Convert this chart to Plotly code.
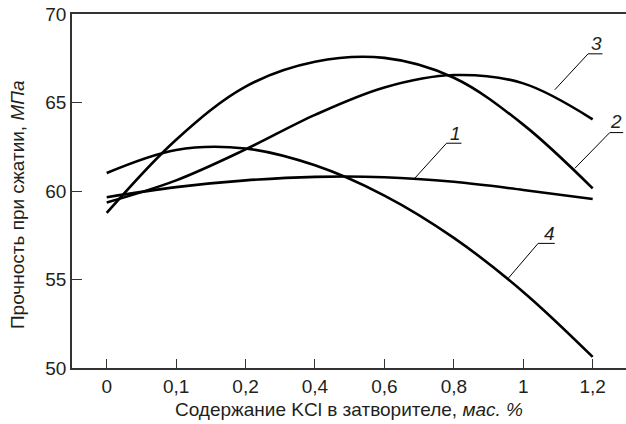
import plotly.graph_objects as go

categories = ["0", "0,1", "0,2", "0,4", "0,6", "0,8", "1", "1,2"]
curve1 = [59.65, 60.22, 60.6, 60.8, 60.78, 60.52, 60.06, 59.55]
curve2 = [58.76, 62.9, 65.9, 67.3, 67.52, 66.4, 63.75, 60.15]
curve3 = [59.35, 60.6, 62.35, 64.3, 65.85, 66.55, 66.08, 64.05]
curve4 = [61.02, 62.32, 62.4, 61.45, 59.74, 57.35, 54.3, 50.63]
series = {"1": curve1, "2": curve2, "3": curve3, "4": curve4}
y_ticks = [50, 55, 60, 65, 70]

FONT = "Liberation Sans, Arial, sans-serif"
TXT = "#231f20"

fig = go.Figure()
for name, vals in series.items():
    fig.add_trace(go.Scatter(
        x=categories, y=vals, mode="lines", name=name,
        line=dict(color="#000000", width=2.6, shape="spline", smoothing=1.0),
        showlegend=False, hoverinfo="skip"))

# curve labels with leader lines (category index, value)
leaders = [
    # label, point on curve, elbow, underline end, text position
    ("1", (4.437, 60.72), (4.895, 62.70), (5.11, 62.70), (5.03, 63.25)),
    ("2", (6.743, 61.28), (7.246, 63.30), (7.44, 63.30), (7.343, 63.92)),
    ("3", (6.454, 65.72), (6.934, 67.75), (7.141, 67.75), (7.055, 68.32)),
    ("4", (5.782, 55.06), (6.214, 57.04), (6.454, 57.04), (6.372, 57.61)),
]
shapes = []
annotations = []
for lab, p0, p1, p2, pt in leaders:
    shapes.append(dict(type="line", xref="x", yref="y", x0=p0[0], y0=p0[1], x1=p1[0], y1=p1[1],
                       line=dict(color="#000000", width=1)))
    shapes.append(dict(type="line", xref="x", yref="y", x0=p1[0], y0=p1[1], x1=p2[0], y1=p2[1],
                       line=dict(color="#000000", width=1)))
    annotations.append(dict(x=pt[0], y=pt[1], xref="x", yref="y", text="<i>%s</i>" % lab,
                            showarrow=False, font=dict(family=FONT, size=19, color=TXT),
                            xanchor="center", yanchor="middle"))

annotations.append(dict(x=-0.0993, y=0.463, xref="paper", yref="paper",
                        text="Прочность при сжатии, <i>МПа</i>", textangle=-90,
                        showarrow=False, font=dict(family=FONT, size=19, color=TXT),
                        xanchor="center", yanchor="middle"))
annotations.append(dict(x=0.5, y=-0.1186, xref="paper", yref="paper",
                        text="Содержание KCl в затворителе, <i>мас. %</i>",
                        showarrow=False, font=dict(family=FONT, size=19, color=TXT),
                        xanchor="center", yanchor="middle"))

fig.update_layout(
    width=626, height=424,
    margin=dict(l=72, r=0, t=14, b=56),
    paper_bgcolor="white", plot_bgcolor="white",
    font=dict(family=FONT, size=19, color=TXT),
    shapes=shapes, annotations=annotations,
    xaxis=dict(type="category", categoryorder="array", categoryarray=categories,
               range=[-0.5, 7.48], showgrid=False, zeroline=False,
               showline=True, linecolor="#333333", linewidth=1.5, mirror=True,
               ticks="inside", ticklen=9, tickwidth=1.2, tickcolor="#333333",
               tickfont=dict(family=FONT, size=19, color=TXT)),
    yaxis=dict(range=[50, 70], tickvals=y_ticks, showgrid=False, zeroline=False,
               showline=True, linecolor="#333333", linewidth=1.5,
               ticks="inside", ticklen=10, tickwidth=1.2, tickcolor="#333333",
               tickfont=dict(family=FONT, size=19, color=TXT)),
)

fig.write_html("out.html")
